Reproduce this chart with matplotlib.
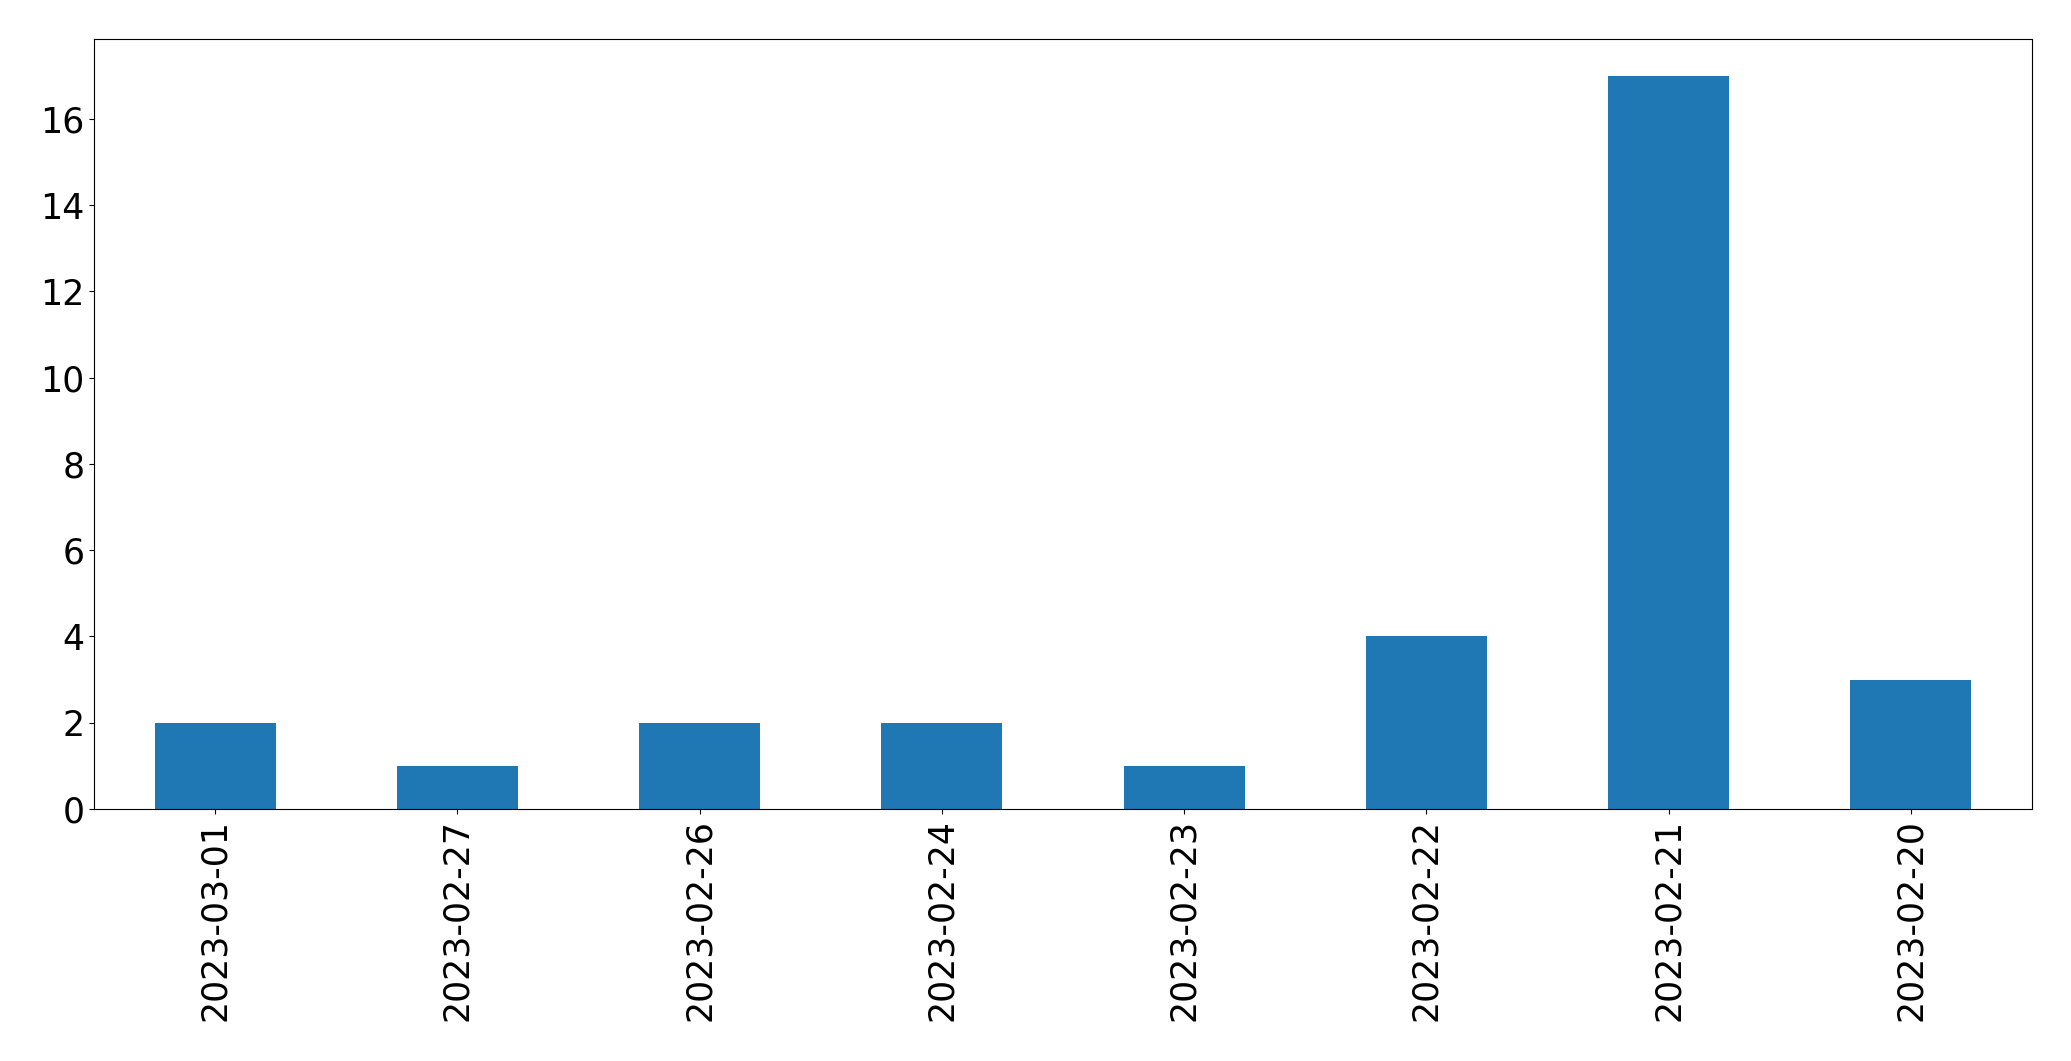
import matplotlib
matplotlib.use("Agg")
import matplotlib.pyplot as plt

# daily counts (order as shown)
dates = ['2023-03-01', '2023-02-27', '2023-02-26', '2023-02-24',
         '2023-02-23', '2023-02-22', '2023-02-21', '2023-02-20']
counts = [2, 1, 2, 2, 1, 4, 17, 3]

fig = plt.figure(figsize=(20.71, 10.61), dpi=100)
ax = fig.add_axes([94/2071, 1 - 809/1061, (2032-94)/2071, (809-39)/1061])

x = range(len(dates))
ax.bar(x, counts, width=0.5, color='#1f77b4')
ax.set_xlim(-0.5, len(dates) - 0.5)
ax.set_ylim(0, max(counts) * 1.05)
ax.set_xticks(list(x))
ax.set_xticklabels(dates, rotation=90)
ax.tick_params(labelsize=25)

fig.savefig('out.png', dpi=100)
